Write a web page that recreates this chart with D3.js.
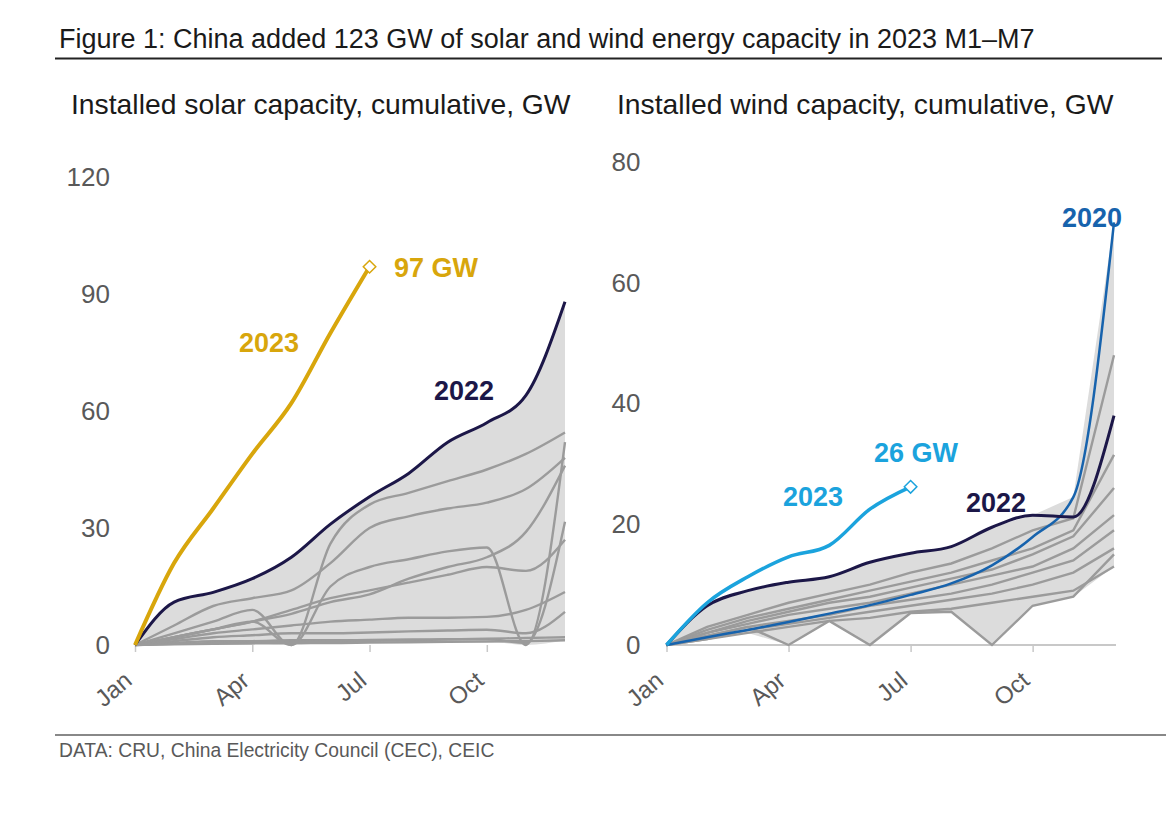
<!DOCTYPE html>
<html>
<head>
<meta charset="utf-8">
<script src="https://cdn.jsdelivr.net/npm/d3@7"></script>
<style>
    body { margin: 0; background: #fff; }
    svg { font-family: 'Liberation Sans', Arial, sans-serif; }
</style>
</head>
<body>
<svg id="chart" width="1169" height="815"></svg>
<script>
// month categories (Jan..Dec) and shown tick labels
const months = ['Jan', 'Feb', 'Mar', 'Apr', 'May', 'Jun', 'Jul', 'Aug', 'Sep', 'Oct', 'Nov', 'Dec'];
const tickMonths = ['Jan', 'Apr', 'Jul', 'Oct'];
const solarTicks = [0, 30, 60, 90, 120];
const windTicks = [0, 20, 40, 60, 80];

// solar, cumulative GW
const solar2023 = [0, 21, 35, 49, 62, 80, 97];
const solar2022 = [0, 11, 13.5, 17, 22.5, 31, 38, 44, 52, 57, 64, 88];
const solarHistory = [
    [0, 3, 6, 9, 0, 26, 36, 39, 42, 45, 49, 54.5],
    [0, 5, 10, 12, 14, 21, 30, 33, 35, 36.5, 40, 48],
    [0, 2, 4, 6, 0, 15, 20, 22, 24, 25, 0, 52],
    [0, 2, 4, 6, 8, 11, 13, 17, 20, 22.5, 29, 46],
    [0, 2, 4, 6, 9, 12, 14, 16, 18, 20, 19, 27],
    [0, 1.5, 3, 4, 5, 6, 6.5, 7, 7, 7.2, 9, 13.6],
    [0, 1, 2, 2.5, 3, 3, 3.2, 3.5, 3.7, 3.9, 3, 8.5],
    [0, 0.5, 1, 1, 1.2, 1.2, 1.3, 1.4, 1.5, 1.5, 0.5, 31.6],
    [0, 0.3, 0.5, 0.7, 0.8, 1, 1.1, 1.2, 1.4, 1.6, 1.8, 2],
    [0, 0.2, 0.3, 0.4, 0.5, 0.5, 0.6, 0.7, 0.8, 0.9, 1, 1.2]
];

// wind, cumulative GW
const wind2023 = [0, 7, 11.3, 14.6, 16.5, 22.5, 26.2];
const wind2022 = [0, 6.5, 9, 10.4, 11.3, 13.7, 15.2, 16.3, 19.5, 21.5, 21.2, 38];
const wind2020 = [0, 1.3, 2.5, 3.8, 5.2, 6.6, 8.3, 10.2, 13.2, 17.9, 24.5, 70];
const windHistory = [
    [0, 3, 5, 7, 8.5, 10, 12, 13.5, 16, 19, 21, 48],
    [0, 2.5, 4.5, 6, 7.5, 9, 10.5, 12, 14, 16, 19, 31.5],
    [0, 2, 4, 5.5, 7, 8, 9.5, 11, 12.5, 15, 18, 26],
    [0, 2, 3.5, 5, 6, 7, 8.5, 10, 11.5, 13, 16, 21.5],
    [0, 1.5, 3, 4, 5, 6.5, 7.5, 8.5, 10, 12, 14, 19],
    [0, 1, 2.5, 3.5, 4.5, 5.5, 6.5, 7.5, 8.5, 10, 12, 16],
    [0, 1, 2, 3, 4, 4.5, 5.5, 6, 7, 8, 9, 13],
    [0, 1.5, 3, 0, 4, 0, 5.3, 5.5, 0, 6.5, 8, 15]
];

const GREY = '#9b9b9b';
const SHADE = '#dcdcdc';
const NAVY = '#1c1748';
const GOLD = '#d8a60c';
const SKY = '#1ba3dd';
const BLUE = '#1763ad';
const TEXT = '#595959';

const svg = d3.select('#chart');

// header
svg.append('text')
    .attr('x', 59).attr('y', 48)
    .attr('font-size', 27).attr('fill', '#1a1a1a')
    .text('Figure 1: China added 123 GW of solar and wind energy capacity in 2023 M1\u2013M7');
svg.append('line')
    .attr('x1', 55).attr('x2', 1162).attr('y1', 58.5).attr('y2', 58.5)
    .attr('stroke', '#222').attr('stroke-width', 2);

// footer
svg.append('line')
    .attr('x1', 55).attr('x2', 1166).attr('y1', 735).attr('y2', 735)
    .attr('stroke', '#888').attr('stroke-width', 2);
svg.append('text')
    .attr('x', 59).attr('y', 757)
    .attr('font-size', 19.3).attr('fill', TEXT)
    .text('DATA: CRU, China Electricity Council (CEC), CEIC');

function drawPanel(cfg) {
    const g = svg.append('g');
    const x = d3.scalePoint().domain(months).range([cfg.x0, cfg.x1]);
    const y = d3.scaleLinear().domain([0, cfg.yMax]).range([645, cfg.yTop]);

    g.append('text')
        .attr('x', cfg.titleX).attr('y', 114)
        .attr('font-size', 28.3).attr('fill', '#1a1a1a')
        .text(cfg.title);

    // envelope of the history years
    const allPast = cfg.history.concat(cfg.envelopeExtra);
    const band = months.map((m, i) => ({
        m: m,
        lo: d3.min(allPast, s => s[i]),
        hi: d3.max(allPast, s => s[i])
    }));
    g.append('path')
        .datum(band)
        .attr('fill', SHADE)
        .attr('d', d3.area()
            .x(d => x(d.m))
            .y0(d => y(d.lo))
            .y1(d => y(d.hi))
            .curve(cfg.greyCurve));

    // axes
    const xAxis = g.append('g')
        .attr('transform', 'translate(0,645)')
        .call(d3.axisBottom(x).tickValues(tickMonths).tickSize(7).tickSizeOuter(0));
    xAxis.attr('font-family', null);
    xAxis.select('.domain')
        .attr('stroke', cfg.showDomain ? '#c8c8c8' : 'none')
        .attr('stroke-width', 2)
        .attr('d', `M${cfg.x0},0H${cfg.domainEnd}`);
    xAxis.selectAll('.tick line').attr('stroke', '#c8c8c8').attr('stroke-width', 1.5);
    xAxis.selectAll('.tick text')
        .attr('font-size', 24).attr('fill', TEXT)
        .attr('text-anchor', 'end')
        .attr('y', 0).attr('dy', 0)
        .attr('transform', 'translate(-2,38) rotate(-40)');

    const yAxis = g.append('g')
        .attr('transform', `translate(${cfg.x0},0)`)
        .call(d3.axisLeft(y).tickValues(cfg.yTicks).tickSize(0).tickPadding(cfg.tickPad));
    yAxis.attr('font-family', null);
    yAxis.select('.domain').remove();
    yAxis.selectAll('.tick text').attr('font-size', 26).attr('fill', TEXT);

    const line = curve => d3.line()
        .x((d, i) => x(months[i]))
        .y(d => y(d))
        .curve(curve);

    g.append('g').selectAll('path')
        .data(cfg.history)
        .join('path')
        .attr('fill', 'none')
        .attr('stroke', GREY)
        .attr('stroke-width', 2.4)
        .attr('d', line(cfg.greyCurve));

    cfg.highlights.forEach(h => {
        g.append('path')
            .datum(h.values)
            .attr('fill', 'none')
            .attr('stroke', h.color)
            .attr('stroke-width', h.width)
            .attr('stroke-linejoin', 'round')
            .attr('d', line(d3.curveMonotoneX));
        if (h.marker) {
            const last = h.values.length - 1;
            g.append('path')
                .attr('d', d3.symbol(d3.symbolDiamond2, 100)())
                .attr('transform', `translate(${x(months[last])},${y(h.values[last])})`)
                .attr('fill', '#fff')
                .attr('stroke', h.color)
                .attr('stroke-width', 1.5);
        }
        h.labels.forEach(l => {
            g.append('text')
                .attr('x', l.x).attr('y', l.y)
                .attr('font-size', 27).attr('font-weight', 'bold')
                .attr('fill', h.color)
                .text(l.text);
        });
    });
}

drawPanel({
    title: 'Installed solar capacity, cumulative, GW',
    titleX: 71,
    x0: 135, x1: 565, domainEnd: 565,
    yMax: 120, yTop: 177, yTicks: solarTicks, tickPad: 25,
    showDomain: false,
    history: solarHistory,
    envelopeExtra: [solar2022],
    greyCurve: d3.curveMonotoneX,
    highlights: [
        { values: solar2022, color: NAVY, width: 3, labels: [{ text: '2022', x: 434, y: 400 }] },
        { values: solar2023, color: GOLD, width: 4, marker: true,
          labels: [{ text: '2023', x: 239, y: 352 }, { text: '97 GW', x: 394, y: 277 }] }
    ]
});

drawPanel({
    title: 'Installed wind capacity, cumulative, GW',
    titleX: 617,
    x0: 666.5, x1: 1114, domainEnd: 1116,
    yMax: 80, yTop: 162, yTicks: windTicks, tickPad: 26,
    showDomain: true,
    history: windHistory,
    envelopeExtra: [wind2022, wind2020],
    greyCurve: d3.curveLinear,
    highlights: [
        { values: wind2020, color: BLUE, width: 2.5, labels: [{ text: '2020', x: 1062, y: 227 }] },
        { values: wind2022, color: NAVY, width: 3, labels: [{ text: '2022', x: 966, y: 512 }] },
        { values: wind2023, color: SKY, width: 3.5, marker: true,
          labels: [{ text: '2023', x: 783, y: 506 }, { text: '26 GW', x: 874, y: 462 }] }
    ]
});
</script>
</body>
</html>
